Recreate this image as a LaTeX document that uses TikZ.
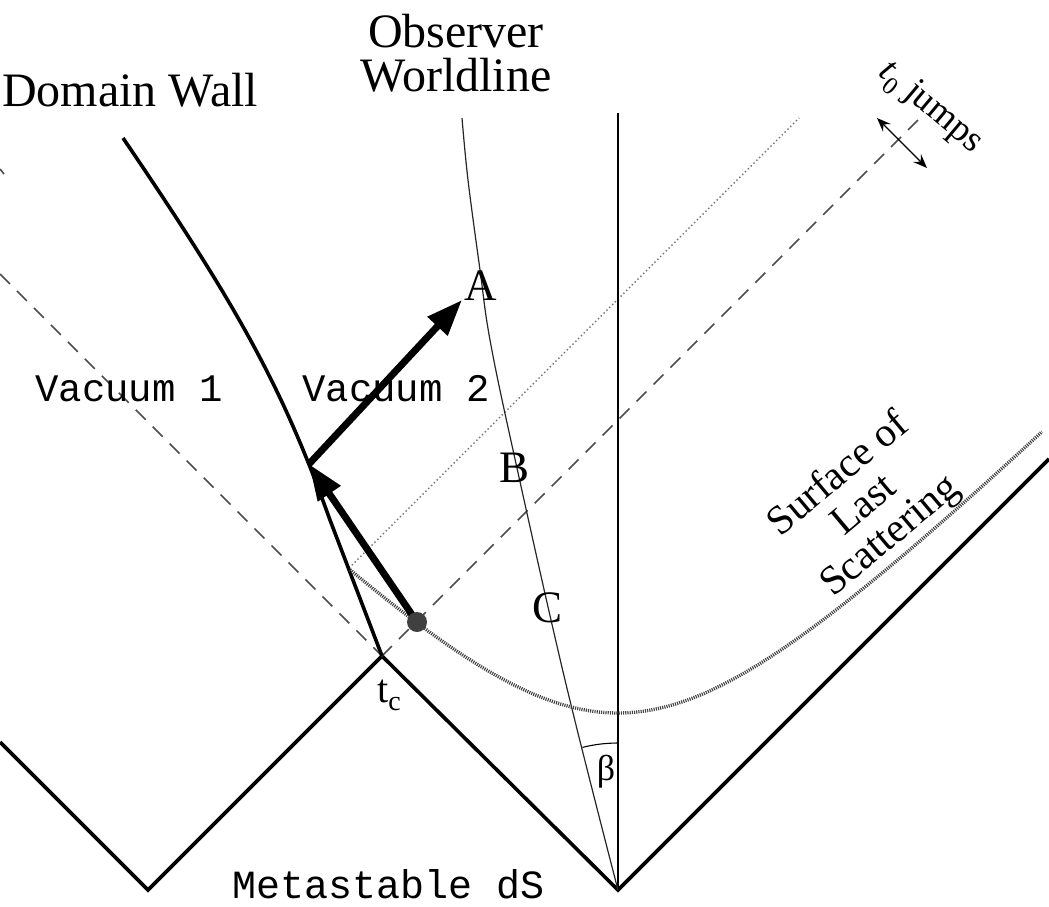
\documentclass[tikz,border=0pt]{standalone}
\usepackage{fontspec}
\setmainfont{Liberation Serif}
\newfontfamily\monof{Liberation Mono}
\usetikzlibrary{arrows.meta}
\begin{document}
\begin{tikzpicture}[x=1pt,y=-1pt,
  thickline/.style={line width=3.6pt, line join=miter},
  lightdash/.style={line width=1.6pt, black!70, dash pattern=on 14pt off 10pt},
  lightdot/.style={line width=1.4pt, black!55, dash pattern=on 1.4pt off 2.6pt},
  lss/.style={line width=3.4pt, black!75, dash pattern=on 1.1pt off 1.1pt},
  bigarrow/.style={line width=7pt, -{Triangle[length=36pt,width=26pt]}},
  serifbig/.style={font=\fontsize{48}{48}\selectfont, inner sep=0pt},
  letterlbl/.style={font=\fontsize{45}{45}\selectfont, inner sep=0pt},
  monolabel/.style={font=\monof\fontsize{39}{39}\selectfont, inner sep=0pt},
]
\useasboundingbox (0,0) rectangle (1049,906);

% key points
\coordinate (tc) at (382,656);
\coordinate (bl) at (148,890);
\coordinate (br) at (618,890);
\coordinate (le) at (0,742);
\coordinate (re) at (1049,459);
\coordinate (kink) at (349,568);
\coordinate (wallbend) at (330,520);
\coordinate (walltop) at (123,138);
\coordinate (wallmid) at (309,464);
\coordinate (dot) at (417,622);
\coordinate (Apt) at (462,300);
\coordinate (dashL) at (0,274);
\coordinate (dashR) at (918,120);
\coordinate (dotR) at (799,118);
\coordinate (vtop) at (618,113);
\coordinate (tickA) at (0,169);
\coordinate (tickB) at (4,174);

% metastable dS boundary
\draw[thickline] (le) -- (bl) -- (tc) -- (br) -- (re);

% light rays
\draw[lightdash] (dashL) -- (tc);
\draw[lightdash] (tc) -- (dashR);
\draw[lightdash] (tickA) -- (tickB);
\draw[lightdot] (kink) -- (dotR);

% domain wall
\draw[thickline, line join=round] (tc) -- (wallbend) .. controls (282.5,388) and (241,311.6) .. (walltop);

% observer worldline and vertical
\draw[line width=1.8pt] (br) -- (vtop);
\draw[line width=1.2pt, black!85] plot[smooth, tension=0.6] coordinates {(618,890) (565,680) (513,450) (490,340) (480,270) (468,180) (462,118)};

% angle beta
\draw[line width=1.1pt] (br) ++(0,-147) arc[start angle=-90, end angle=-104, radius=147];

% surface of last scattering
\draw[lss] plot[domain=-268:424, samples=120] ({618+\x}, {892 - 100*sqrt(3.2041 + (\x/100)*(\x/100))});

% thick arrows
\draw[bigarrow] (dot) -- (wallmid);
\draw[bigarrow] (wallmid) -- (Apt);
\fill[black!75] (dot) circle (10);

% t0 jumps double arrow
\coordinate (jA) at (877,118);
\coordinate (jB) at (927,168);
\draw[line width=1.4pt, {Stealth[length=14pt,width=11pt,inset=5pt]}-{Stealth[length=14pt,width=11pt,inset=5pt]}] (jA) -- (jB);

% labels
\node[serifbig, anchor=base west] (dw) at (2,106) {Domain Wall};
\node[serifbig, anchor=base] (obs1) at (456,47) {Observer};
\node[serifbig, anchor=base] (obs2) at (456,91) {Worldline};
\node[monolabel, anchor=base west] (v1) at (35,401) {Vacuum 1};
\node[monolabel, anchor=base west] (v2) at (302,401) {Vacuum 2};
\node[font=\monof\fontsize{40}{40}\selectfont, inner sep=0pt, anchor=base west] (meta) at (232,898) {Metastable dS};
\node[letterlbl, anchor=base] (lA) at (481,300) {A};
\node[letterlbl, anchor=base] (lB) at (515,482) {B};
\node[letterlbl, anchor=base] (lC) at (547,622) {C};
\node[font=\fontsize{36}{36}\selectfont, inner sep=0pt] (beta) at (606,772) {β};
\node[font=\fontsize{40}{40}\selectfont, inner sep=0pt, anchor=base west] (ltc) at (377,702) {t\raisebox{-0.22em}{\fontsize{28}{28}\selectfont c}};
\node[font=\fontsize{37}{37}\selectfont, inner sep=0pt, rotate=-40] (jumps) at (930,108) {\textit{t}\raisebox{-0.25em}{\fontsize{25}{25}\selectfont 0} jumps};
\node[font=\fontsize{41}{40}\selectfont, inner sep=0pt, align=center, rotate=40] (sls) at (865,506) {Surface of\\Last\\Scattering};
\end{tikzpicture}
\end{document}
